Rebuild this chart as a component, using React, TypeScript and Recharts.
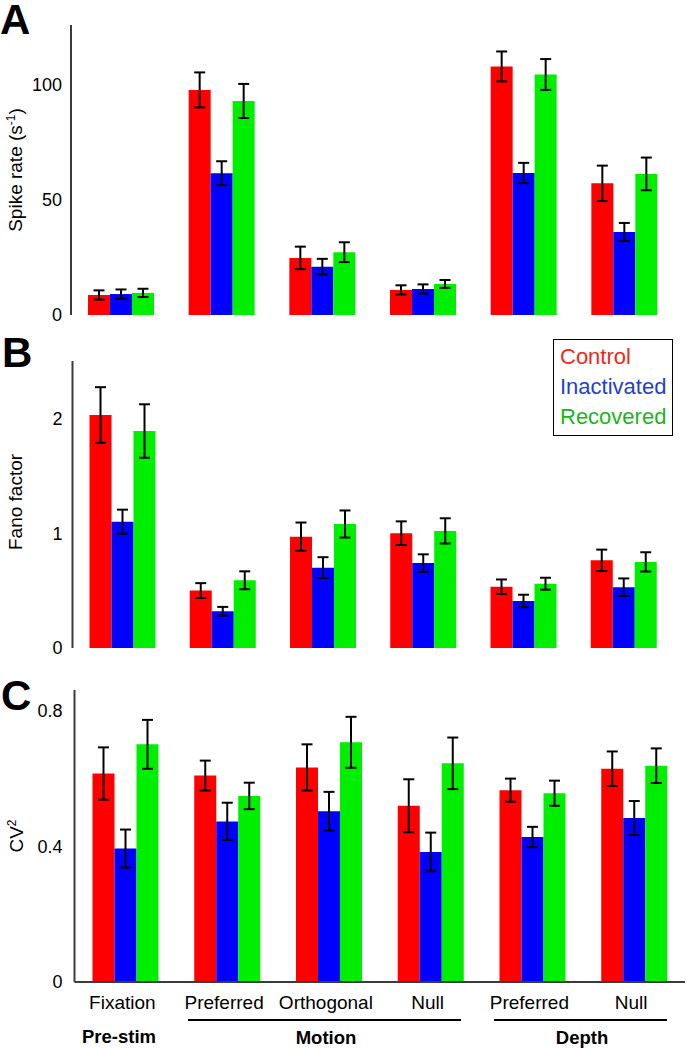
import React from 'react';
import { BarChart, Bar, XAxis, YAxis, ErrorBar, Legend } from 'recharts';

const FONT = '"Liberation Sans", Arial, Helvetica, sans-serif';
const AXIS = '#3c3c3c';

// categories
const conditions = ['Fixation', 'Preferred', 'Orthogonal', 'Null', 'Preferred', 'Null'];
const groupNames = ['Pre-stim', 'Motion', 'Depth'];
const seriesNames = ['Control', 'Inactivated', 'Recovered'];
const barColors = ['#ff0000', '#0000ff', '#00ee00'];
const legendTextColors = ['#f0281a', '#1f3fd2', '#1db41d'];

// Panel A: spike rate (s^-1)
const rateControl = [8.7, 97.8, 24.8, 10.9, 108.0, 57.2];
const rateControlErr = [2.0, 7.6, 4.9, 2.0, 6.5, 7.7];
const rateInact = [9.1, 61.6, 21.0, 11.3, 61.7, 36.1];
const rateInactErr = [2.0, 5.2, 3.4, 2.0, 4.4, 3.9];
const rateRecov = [9.6, 93.0, 27.3, 13.5, 104.5, 61.3];
const rateRecovErr = [1.8, 7.4, 4.3, 1.7, 6.7, 7.1];
const rateTicks = [0, 50, 100];

// Panel B: Fano factor
const fanoControl = [2.03, 0.5, 0.97, 1.0, 0.534, 0.764];
const fanoControlErr = [0.242, 0.065, 0.123, 0.103, 0.063, 0.093];
const fanoInact = [1.1, 0.32, 0.7, 0.74, 0.41, 0.53];
const fanoInactErr = [0.105, 0.038, 0.091, 0.076, 0.054, 0.076];
const fanoRecov = [1.89, 0.59, 1.08, 1.02, 0.56, 0.75];
const fanoRecovErr = [0.233, 0.078, 0.118, 0.11, 0.052, 0.084];
const fanoTicks = [0, 1, 2];

// Panel C: CV2
const cvControl = [0.614, 0.608, 0.632, 0.519, 0.565, 0.628];
const cvControlErr = [0.077, 0.044, 0.068, 0.078, 0.034, 0.051];
const cvInact = [0.393, 0.473, 0.503, 0.383, 0.427, 0.483];
const cvInactErr = [0.056, 0.055, 0.057, 0.057, 0.03, 0.05];
const cvRecov = [0.7, 0.548, 0.706, 0.644, 0.556, 0.637];
const cvRecovErr = [0.072, 0.039, 0.075, 0.076, 0.037, 0.051];
const cvTicks = [0, 0.4, 0.8];

function buildRows(c: number[], ce: number[], i: number[], ie: number[], r: number[], re: number[]) {
  return conditions.map((label, k) => ({
    label,
    c: c[k], ce: ce[k],
    i: i[k], ie: ie[k],
    r: r[k], re: re[k],
  }));
}

const rateRows = buildRows(rateControl, rateControlErr, rateInact, rateInactErr, rateRecov, rateRecovErr);
const fanoRows = buildRows(fanoControl, fanoControlErr, fanoInact, fanoInactErr, fanoRecov, fanoRecovErr);
const cvRows = buildRows(cvControl, cvControlErr, cvInact, cvInactErr, cvRecov, cvRecovErr);

const seriesKeys = [['c', 'ce'], ['i', 'ie'], ['r', 're']];

function renderLegend(props: any) {
  const payload = props.payload || [];
  return (
    <div
      style={{
        width: 120,
        height: 97,
        boxSizing: 'border-box',
        border: '1.5px solid #000',
        background: '#fff',
        paddingLeft: 6,
        paddingTop: 2,
        fontFamily: FONT,
        fontSize: 22,
        lineHeight: '30px',
        textAlign: 'left',
      }}
    >
      {payload.map((p: any, s: number) => (
        <div key={s} style={{ color: legendTextColors[s], whiteSpace: 'nowrap' }}>{p.value}</div>
      ))}
    </div>
  );
}

type PanelProps = {
  rows: any[];
  domain: [number, number];
  ticks: number[];
  height: number;
  margin: { top: number; right: number; bottom: number; left: number };
  showX: boolean;
  yTickMargin: number;
  withLegend?: boolean;
};

function Panel({ rows, domain, ticks, height, margin, showX, yTickMargin, withLegend }: PanelProps) {
  return (
    <BarChart width={686} height={height} data={rows} margin={margin} barGap={0} barSize={22}>
      <XAxis
        dataKey="label"
        interval={0}
        axisLine={{ stroke: AXIS, strokeWidth: 2 }}
        tickLine={false}
        tickSize={0}
        tickMargin={14}
        height={showX ? 30 : 0}
        tick={showX ? { fontSize: 19, fill: '#000', fontFamily: FONT, dx: -3 } : false}
      />
      <YAxis
        type="number"
        domain={domain}
        ticks={ticks}
        interval={0}
        width={60}
        axisLine={{ stroke: AXIS, strokeWidth: 2 }}
        tickLine={false}
        tickSize={0}
        tickMargin={yTickMargin}
        tick={{ fontSize: 18, fill: '#000', fontFamily: FONT }}
      />
      {seriesKeys.map((k, s) => (
        <Bar key={k[0]} dataKey={k[0]} name={seriesNames[s]} fill={barColors[s]} isAnimationActive={false}>
          <ErrorBar dataKey={k[1]} width={5.5} stroke="#000" strokeWidth={2} direction="y" isAnimationActive={false} />
        </Bar>
      ))}
      {withLegend ? (
        <Legend
          layout="vertical"
          align="center"
          verticalAlign="middle"
          wrapperStyle={{ left: 553, top: 9, width: 120, height: 97 }}
          content={renderLegend}
        />
      ) : null}
    </BarChart>
  );
}

export default function App() {
  return (
    <div style={{ position: 'absolute', left: 0, top: 0, width: 686, height: 1048, background: '#fff', fontFamily: FONT }}>
      <div style={{ position: 'absolute', left: 0, top: 0 }}>
        <Panel rows={rateRows} domain={[0, 126]} ticks={rateTicks} height={325}
          margin={{ top: 25, right: 11, bottom: 10, left: 11 }} showX={false} yTickMargin={9} />
      </div>
      <div style={{ position: 'absolute', left: 0, top: 330 }}>
        <Panel rows={fanoRows} domain={[0, 2.5]} ticks={fanoTicks} height={330}
          margin={{ top: 31, right: 12, bottom: 12, left: 12.5 }} showX={false} yTickMargin={10} withLegend />
      </div>
      <div style={{ position: 'absolute', left: 0, top: 660 }}>
        <Panel rows={cvRows} domain={[0, 0.86]} ticks={cvTicks} height={388}
          margin={{ top: 30, right: 1, bottom: 36, left: 14.5 }} showX={true} yTickMargin={12} />
      </div>
      <svg width={686} height={1048} style={{ position: 'absolute', left: 0, top: 0, pointerEvents: 'none' }}>
        <g fontFamily={FONT} fontWeight="bold" fontSize={42} fill="#000">
          <text x={0} y={34}>A</text>
          <text x={2} y={367}>B</text>
          <text x={1} y={710}>C</text>
        </g>
        <g fontFamily={FONT} fontSize={19} fill="#000">
          <text transform="translate(22,170) rotate(-90)" textAnchor="middle">
            Spike rate (s<tspan fontSize={12} dy={-7}>-1</tspan><tspan dy={7}>)</tspan>
          </text>
          <text transform="translate(22,502) rotate(-90)" textAnchor="middle">Fano factor</text>
          <text transform="translate(23,836) rotate(-90)" textAnchor="middle">
            CV<tspan fontSize={12} dy={-7}>2</tspan>
          </text>
        </g>
        <g stroke="#000" strokeWidth={2}>
          <line x1={188} y1={1020} x2={461} y2={1020} />
          <line x1={494} y1={1020} x2={667} y2={1020} />
        </g>
        <g fontFamily={FONT} fontWeight="bold" fontSize={18.5} fill="#000" textAnchor="middle">
          <text x={119} y={1043}>{groupNames[0]}</text>
          <text x={326} y={1044}>{groupNames[1]}</text>
          <text x={582} y={1044}>{groupNames[2]}</text>
        </g>
      </svg>
    </div>
  );
}
